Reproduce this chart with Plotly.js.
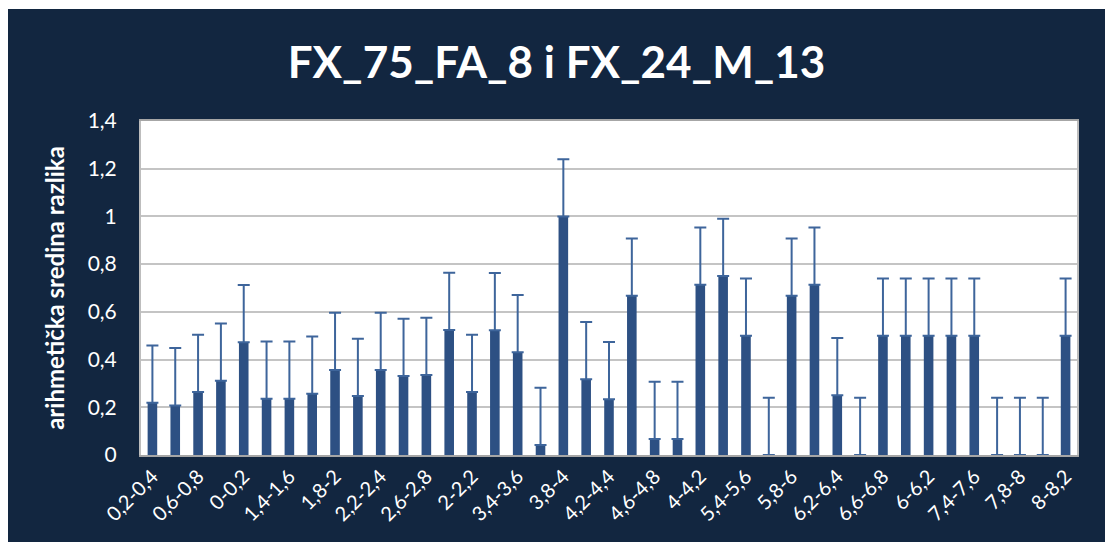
<!DOCTYPE html>
<html>
<head>
<meta charset="utf-8">
<script src="https://cdn.plot.ly/plotly-3.0.1.min.js"></script>
<style>
  html, body { margin: 0; padding: 0; background: #ffffff; }
  #chart { position: absolute; left: 8px; top: 9px; width: 1097px; height: 533px; }
</style>
</head>
<body>
<div id="chart"></div>
<script>
const categories = [
  "0,2-0,4","0,4-0,6","0,6-0,8","0,8-1","0-0,2","1,2-1,4","1,4-1,6","1,6-1,8","1,8-2","1-1,2",
  "2,2-2,4","2,4-2,6","2,6-2,8","2,8-3","2-2,2","3,2-3,4","3,4-3,6","3,6-3,8","3,8-4","3-3,2",
  "4,2-4,4","4,4-4,6","4,6-4,8","4,8-5","4-4,2","5,2-5,4","5,4-5,6","5,6-5,8","5,8-6","5-5,2",
  "6,2-6,4","6,4-6,6","6,6-6,8","6,8-7","6-6,2","7,2-7,4","7,4-7,6","7,6-7,8","7,8-8","7-7,2",
  "8-8,2"
];
const means = [
  0.219, 0.208, 0.264, 0.311, 0.473, 0.236, 0.236, 0.257, 0.356, 0.247,
  0.356, 0.331, 0.335, 0.524, 0.264, 0.523, 0.431, 0.042, 1.0, 0.318,
  0.234, 0.667, 0.067, 0.067, 0.714, 0.75, 0.5, 0, 0.667, 0.714,
  0.25, 0, 0.5, 0.5, 0.5, 0.5, 0.5, 0, 0, 0,
  0.5
];
const errors = [
  0.24, 0.24, 0.24, 0.24, 0.24, 0.24, 0.24, 0.24, 0.24, 0.24,
  0.24, 0.24, 0.24, 0.24, 0.24, 0.24, 0.24, 0.24, 0.24, 0.24,
  0.24, 0.24, 0.24, 0.24, 0.24, 0.24, 0.24, 0.24, 0.24, 0.24,
  0.24, 0.24, 0.24, 0.24, 0.24, 0.24, 0.24, 0.24, 0.24, 0.24,
  0.24
];
const tickLabels = [
  "0,2-0,4","0,6-0,8","0-0,2","1,4-1,6","1,8-2","2,2-2,4","2,6-2,8","2-2,2","3,4-3,6","3,8-4",
  "4,2-4,4","4,6-4,8","4-4,2","5,4-5,6","5,8-6","6,2-6,4","6,6-6,8","6-6,2","7,4-7,6","7,8-8","8-8,2"
];
const titleText = "FX_75_FA_8 i FX_24_M_13";
const yTitle = "arihmetička sredina razlika";

const FONT = "Lato, 'Open Sans', sans-serif";

const trace = {
  type: "bar",
  x: categories,
  y: means,
  width: 0.42,
  marker: { color: "#2d5083", line: { color: "#1b3358", width: 0 } },
  error_y: { type: "data", symmetric: false, array: errors, arrayminus: errors.map(() => 0),
             color: "#3e659b", thickness: 2, width: 6 },
  hoverinfo: "x+y"
};

const layout = {
  width: 1097, height: 533,
  paper_bgcolor: "#122640",
  plot_bgcolor: "#ffffff",
  separators: ", ",
  margin: { l: 133, r: 28, t: 112, b: 87 },
  showlegend: false,
  title: {
    text: "<b>" + titleText + "</b>",
    font: { family: FONT, size: 44, color: "#ffffff" },
    x: 0.5, xanchor: "center", xref: "container",
    y: 0.9, yanchor: "middle", yref: "container"
  },
  xaxis: {
    type: "category",
    categoryorder: "array", categoryarray: categories,
    tickmode: "array", tickvals: tickLabels, ticktext: tickLabels,
    tickangle: -45,
    tickfont: { family: FONT, size: 20, color: "#ffffff" },
    showgrid: false,
    showline: true, linecolor: "#a6a6a6", linewidth: 2, mirror: true,
    ticks: "", automargin: false
  },
  yaxis: {
    range: [0, 1.4], dtick: 0.2, tick0: 0,
    tickfont: { family: FONT, size: 21, color: "#ffffff" },
    showgrid: true, gridcolor: "#c4c4c4", gridwidth: 2,
    zeroline: false,
    showline: true, linecolor: "#bdbdbd", linewidth: 2, mirror: true,
    ticks: "", ticklen: 0, ticklabelstandoff: 18,
    title: { text: "<b>" + yTitle + "</b>", font: { family: FONT, size: 24, color: "#ffffff" }, standoff: 16 },
    automargin: false
  }
};

Plotly.newPlot("chart", [trace], layout, { displayModeBar: false, staticPlot: true });
</script>
</body>
</html>
